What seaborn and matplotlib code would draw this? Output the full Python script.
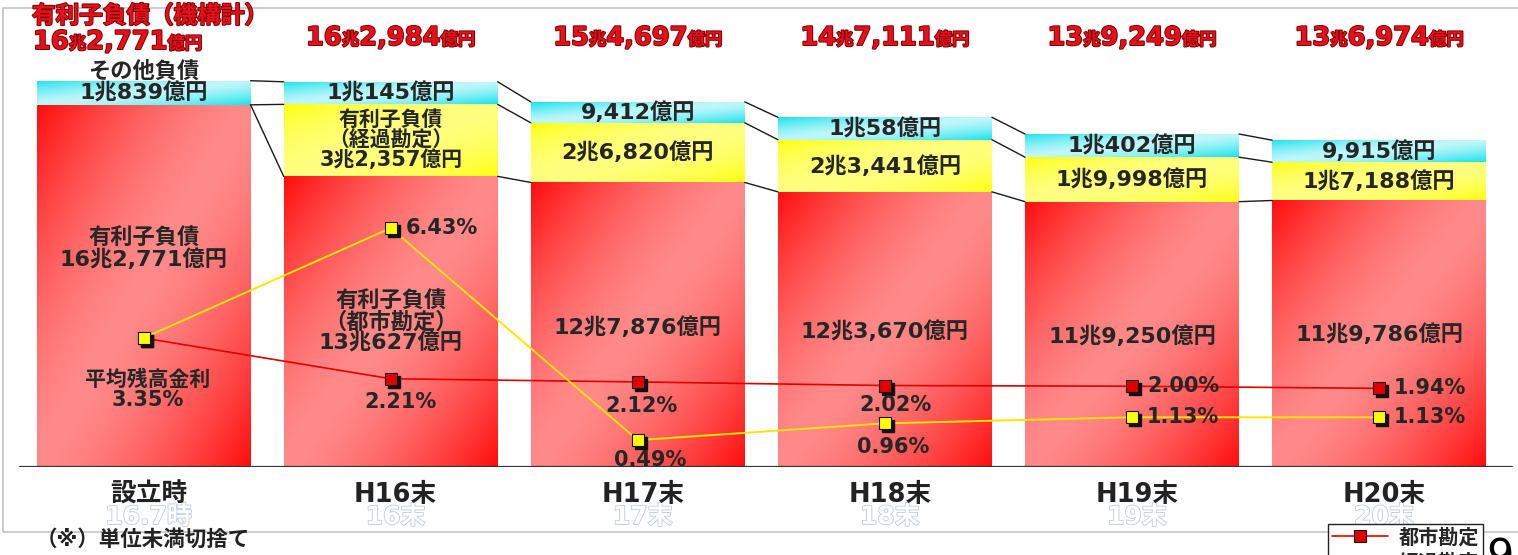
import numpy as np
import pandas as pd
import matplotlib
matplotlib.use("Agg")
import matplotlib.pyplot as plt
import matplotlib.transforms as mtransforms
import matplotlib.patheffects as pe
from matplotlib.patches import Rectangle
from matplotlib.lines import Line2D
import seaborn as sns

# ---- data (億円 / %) ----
periods = ["設立時", "H16末", "H17末", "H18末", "H19末", "H20末"]
old_periods = ["16.7時", "16末", "17末", "18末", "19末", "20末"]
urban_debt = [162771, 130627, 127876, 123670, 119250, 119786]    # 有利子負債（都市勘定）
transit_debt = [0, 32357, 26820, 23441, 19998, 17188]            # 有利子負債（経過勘定）
other_debt = [10839, 10145, 9412, 10058, 10402, 9915]            # その他負債
total_interest_debt = [162771, 162984, 154697, 147111, 139249, 136974]  # 有利子負債（機構計）
urban_rate = [3.35, 2.21, 2.12, 2.02, 2.00, 1.94]                # 平均残高金利（都市勘定）
transit_rate = [3.35, 6.43, 0.49, 0.96, 1.13, 1.13]              # 平均残高金利（経過勘定）

sns.set_theme(style="white")
plt.rcParams["font.family"] = ["DejaVu Sans", "Noto Sans CJK JP"]
plt.rcParams["font.weight"] = "bold"

W, H = 1518, 555
fig = plt.figure(figsize=(W / 100, H / 100), dpi=100)
fig.patch.set_facecolor("white")
ax = fig.add_axes([0, 88 / H, 1, 467 / H])
ax.patch.set_visible(False)

df = pd.DataFrame({"period": periods, "urban": urban_debt,
                   "transit": transit_debt, "other": other_debt})
urban = np.array(urban_debt, float)
transit = np.array(transit_debt, float)
other = np.array(other_debt, float)

BAR_W = 0.866
layers = []
for col, bottom, edge, mid, pw in [
    ("urban", np.zeros(6), "#ff0d0d", "#ff8a8a", 1.5),
    ("transit", urban, "#ffff10", "#ffff80", 1.8),
    ("other", urban + transit, "#18e2ee", "#c0f7fa", 1.4),
]:
    n0 = len(ax.patches)
    sns.barplot(data=df, x="period", y=col, bottom=bottom, color=mid,
                saturation=1, width=BAR_W, errorbar=None, linewidth=0,
                edgecolor="none", ax=ax)
    layers.append((ax.patches[n0:], edge, mid, pw))

XLIM = (-0.581, 5.562)
YLIM = (0, 467 / 0.002225)
ax.set_xlim(*XLIM)
ax.set_ylim(*YLIM)


def to_rgb(c):
    return np.array(matplotlib.colors.to_rgb(c))


def gradient_fill(patch, edge, mid, power):
    x0, y0 = patch.get_x(), patch.get_y()
    w, h = patch.get_width(), patch.get_height()
    if h <= 0:
        return
    n = 240
    u = np.linspace(0, 1, n)[None, :]
    v = np.linspace(0, 1, n)[:, None]
    f = np.abs(u + v - 1) ** power
    img = to_rgb(mid) * (1 - f)[..., None] + to_rgb(edge) * f[..., None]
    im = ax.imshow(img, extent=(x0, x0 + w, y0, y0 + h), origin="upper",
                   aspect="auto", interpolation="bilinear",
                   zorder=patch.get_zorder() + 0.01)
    im.set_clip_path(patch)


for patches, edge, mid, pw in layers:
    for p in patches:
        gradient_fill(p, edge, mid, pw)

ax.set_xlim(*XLIM)
ax.set_ylim(*YLIM)

# series lines joining the stacked segments
tops = [urban, urban + transit, urban + transit + other]
for t in tops:
    for i in range(5):
        ax.plot([i + BAR_W / 2, i + 1 - BAR_W / 2], [t[i], t[i + 1]],
                color="#1a1a1a", lw=1.0, zorder=3)

# baseline
ax.axhline(0, xmin=20 / W, xmax=1512 / W, color="#333333", lw=1.6, zorder=4)

for s in ax.spines.values():
    s.set_visible(False)
ax.set_xticks([])
ax.set_yticks([])
ax.set_xlabel("")
ax.set_ylabel("")

# x: data, y: pixels from top of figure
px_y = mtransforms.Affine2D().scale(1, -1).translate(0, H)
bx = mtransforms.blended_transform_factory(ax.transData, px_y)


def fmt_oku(v):
    chou, rest = divmod(int(v), 10000)
    s = ""
    if chou:
        s += f"{chou}兆"
        if rest:
            s += f"{rest:,}"
    else:
        s += f"{rest:,}"
    return s + "億円"


INK = "#262626"
LBL = 16

# その他負債 (cyan) labels
for i in range(6):
    yv = urban[i] + transit[i] + other[i] / 2
    ax.annotate(fmt_oku(other[i]), (i, yv), ha="center", va="center",
                fontsize=LBL, color=INK, zorder=6)
ax.annotate("その他負債", (0, urban[0] + other[0]), xytext=(0, 10),
            textcoords="offset pixels", ha="center", va="center",
            fontsize=LBL, color=INK, zorder=6)

# 経過勘定 (yellow) labels
for i in range(1, 6):
    yv = urban[i] + transit[i] / 2
    txt = fmt_oku(transit[i])
    fs = LBL
    if i == 1:
        txt = "有利子負債\n（経過勘定）\n" + txt
        fs = 15
    ax.annotate(txt, (i, yv), ha="center", va="center", fontsize=fs,
                color=INK, linespacing=0.98, zorder=6)

# 都市勘定 (red) labels
red_label_y = [249, 322, 327, 331, 336, 334]
for i in range(6):
    txt = fmt_oku(urban[i])
    if i == 0:
        txt = "有利子負債\n" + txt
    elif i == 1:
        txt = "有利子負債\n（都市勘定）\n" + txt
    ax.text(i, red_label_y[i], txt, transform=bx, ha="center", va="center",
            fontsize=LBL, color=INK, linespacing=0.98, zorder=6)

# x category labels with the faint older labels underneath
for i in range(6):
    ax.text(i + 0.02, 517, old_periods[i], transform=bx, ha="center",
            va="center", fontsize=18, color="white", zorder=5,
            path_effects=[pe.Stroke(linewidth=1.2, foreground="#bfcadc"),
                          pe.Normal()])
    ax.text(i + 0.02, 495, periods[i], transform=bx, ha="center",
            va="center", fontsize=18.5, color="#222222", zorder=6)

# ---- average interest rates on a secondary axis ----
ax2 = ax.twinx()
ax2.patch.set_visible(False)
xs = np.arange(6)
RED_L, YEL_L = "#e00000", "#ffe400"
sns.lineplot(x=xs, y=urban_rate, ax=ax2, color=RED_L, lw=1.2, legend=False,
             zorder=5)
sns.lineplot(x=xs, y=transit_rate, ax=ax2, color=YEL_L, lw=1.4,
             legend=False, zorder=5)
shadow = ax2.transData + mtransforms.ScaledTranslation(3 / 100, -3 / 100,
                                                       fig.dpi_scale_trans)
for rates in (urban_rate, transit_rate):
    ax2.plot(xs, rates, "s", ms=9, color="#111111", transform=shadow,
             zorder=6)
ax2.plot(xs, urban_rate, "s", ms=9, mfc="#e00000", mec="#111111", mew=0.8,
         zorder=7)
ax2.plot(xs, transit_rate, "s", ms=9, mfc="#ffff00", mec="#111111", mew=0.8,
         zorder=8)
ax2.set_ylim(-0.263, 12.82)
ax2.set_xlim(*XLIM)
for s in ax2.spines.values():
    s.set_visible(False)
ax2.set_yticks([])
ax2.set_ylabel("")

PCT = 15
ax2.annotate(f"平均残高金利\n{urban_rate[0]:.2f}%", (0, urban_rate[0]),
             xytext=(4, -52), textcoords="offset pixels", ha="center",
             va="center", fontsize=PCT, color=INK, linespacing=1.0, zorder=9)
below = {("u", 1): (10, -23), ("u", 2): (4, -24), ("u", 3): (11, -19),
         ("t", 2): (12, -20), ("t", 3): (8, -24)}
right = {("t", 1), ("u", 4), ("t", 4), ("u", 5), ("t", 5)}
for key, rates in (("u", urban_rate), ("t", transit_rate)):
    for i in range(1, 6):
        lab = f"{rates[i]:.2f}%"
        if (key, i) in below:
            ax2.annotate(lab, (i, rates[i]), xytext=below[(key, i)],
                         textcoords="offset pixels", ha="center",
                         va="center", fontsize=PCT, color=INK, zorder=9)
        elif (key, i) in right:
            ax2.annotate(lab, (i, rates[i]), xytext=(15, 0),
                         textcoords="offset pixels", ha="left",
                         va="center", fontsize=PCT, color=INK, zorder=9)

# ---- 有利子負債（機構計） totals in red, digits larger than units ----
renderer = fig.canvas.get_renderer()
RED_TXT = "#e5101a"
red_fx = [pe.Stroke(linewidth=1.4, foreground="#7a0000"), pe.Normal()]


def red_amount(x_px, base_px, value, align="center"):
    chou, rest = divmod(int(value), 10000)
    runs = [(str(chou), 18.5), ("兆", 12.5), (f"{rest:,}", 18.5),
            ("億円", 12.5)]
    texts = [fig.text(0, 0, s, fontsize=fs, color=RED_TXT, va="baseline",
                      ha="left", path_effects=red_fx) for s, fs in runs]
    widths = [t.get_window_extent(renderer).width for t in texts]
    x = x_px - sum(widths) / 2 if align == "center" else x_px
    for t, w in zip(texts, widths):
        t.set_position((x / W, 1 - base_px / H))
        x += w


fig.text(32 / W, 1 - 16 / H, "有利子負債（機構計）", fontsize=17,
         color=RED_TXT, va="center", ha="left", path_effects=red_fx)
red_amount(33, 49, total_interest_debt[0], align="left")
for i in range(1, 6):
    xc = ax.transData.transform((i, 0))[0]
    red_amount(xc, 45, total_interest_debt[i])

# footnote, frame, legend, page number
fig.text(36 / W, 1 - 539 / H, "（※）単位未満切捨て", fontsize=15.5,
         color="#222222", va="center", ha="left")
fig.add_artist(Rectangle((3 / W, 1 - 532 / H), 1.2, (532 - 8) / H,
                         transform=fig.transFigure, fill=False,
                         edgecolor="#c4c4c4", lw=1.2, zorder=-5))

handles = [Line2D([], [], color=RED_L, lw=1.2, marker="s", ms=8,
                  mfc="#e00000", mec="#111111", mew=0.8),
           Line2D([], [], color=YEL_L, lw=1.4, marker="s", ms=8,
                  mfc="#ffff00", mec="#111111", mew=0.8)]
leg = ax2.legend(handles, ["都市勘定", "経過勘定"], loc="upper left",
                 bbox_to_anchor=(1328 / W, 1 - 524 / H),
                 bbox_transform=fig.transFigure, frameon=True,
                 fancybox=False, framealpha=1, edgecolor="#222222",
                 fontsize=14.5, handlelength=2.8, borderpad=0.2,
                 labelspacing=0.3, handletextpad=0.5, borderaxespad=0)
leg.get_frame().set_linewidth(1.0)
leg.set_zorder(20)

fig.text(1486 / W, 1 - 536 / H, "9", fontsize=31, color="black",
         va="top", ha="left", fontweight="normal", zorder=30)

fig.savefig("out.png", dpi=100, facecolor="white")
